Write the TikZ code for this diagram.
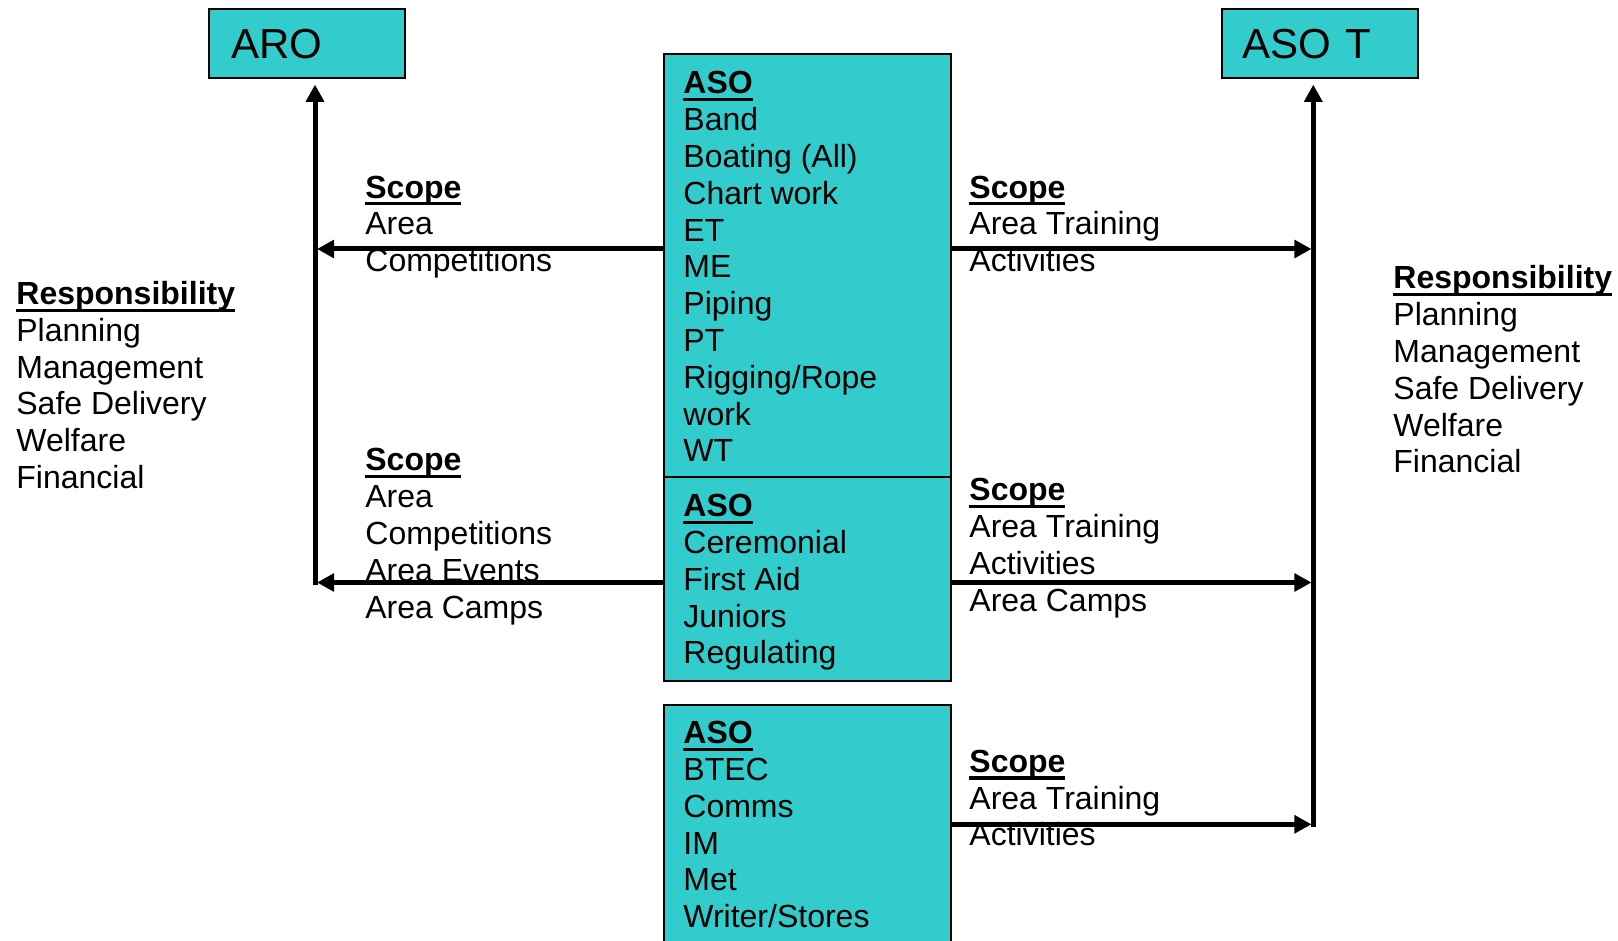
\documentclass[tikz,border=0pt]{standalone}
\usepackage{fontspec}
\setmainfont{Liberation Sans}
\usetikzlibrary{arrows.meta}
\definecolor{tealfill}{HTML}{33CCCC}
\newcommand\ulhead[1]{\setbox0\hbox{\bfseries #1}\rlap{\rule[-3.7pt]{\wd0}{1.6pt}}\box0}
\tikzset{
  txt/.style={anchor=north west, inner sep=0pt, align=left, font=\fontsize{16pt}{18.4pt}\selectfont},
  boxshape/.style={draw=black, line width=1.2pt, fill=tealfill, rectangle, inner sep=0pt, anchor=north west},
  topbox/.style={boxshape, font=\fontsize{21pt}{25pt}\selectfont, align=left, minimum height=34.5pt},
  conn/.style={line width=2.5pt, -{Triangle[length=8.6pt,width=8.8pt]}}
}
\begin{document}
\begin{tikzpicture}[x=0.5pt,y=-0.5pt]
\useasboundingbox (0,0) rectangle (1618,941);
\clip (0,0) rectangle (1618,941);
\fill[white] (0,0) rectangle (1618,941);

% top boxes
\node[topbox, text width=76pt, inner xsep=11pt] (aro) at (208,8) {ARO};
\node[topbox, text width=77.4pt, inner xsep=10.3pt] (asot) at (1221,8) {ASO T};

% central boxes
\node[boxshape, minimum width=143.5pt, minimum height=211.5pt] (aso1) at (663,53) {};
\node[boxshape, minimum width=143.5pt, minimum height=102pt] (aso2) at (663,476) {};
\node[boxshape, minimum width=143.5pt, minimum height=130pt] (aso3) at (663,704) {};

% connector coordinates
\coordinate (lvbot) at (315,585);
\coordinate (rvbot) at (1313.3,826.8);
\coordinate (la1) at (317,249);
\coordinate (la2) at (317,582.5);
\coordinate (ra1) at (1311.5,249);
\coordinate (ra2) at (1311.5,582.5);
\coordinate (ra3) at (1311.5,824.3);

% vertical connectors
\draw[conn, shorten >=2.6pt] (lvbot) -- (lvbot |- aro.south);
\draw[conn, shorten >=2.6pt] (rvbot) -- (rvbot |- asot.south);

% horizontal connectors
\draw[conn] (aso1.west |- la1) -- (la1);
\draw[conn] (aso2.west |- la2) -- (la2);
\draw[conn] (aso1.east |- ra1) -- (ra1);
\draw[conn] (aso2.east |- ra2) -- (ra2);
\draw[conn] (aso3.east |- ra3) -- (ra3);

% box texts
\node[txt] (aso1t) at (683,67.74) {\strut\ulhead{ASO}\\Band\\Boating (All)\\Chart work\\ET\\ME\\Piping\\PT\\Rigging/Rope\\work\\WT};
\node[txt] (aso2t) at (683,490.44) {\strut\ulhead{ASO}\\Ceremonial\\First Aid\\Juniors\\Regulating};
\node[txt] (aso3t) at (683,717.44) {\strut\ulhead{ASO}\\BTEC\\Comms\\IM\\Met\\Writer/Stores};

% responsibility
\node[txt] (respL) at (16,278.24) {\strut\ulhead{Responsibility}\\Planning\\Management\\Safe Delivery\\Welfare\\Financial};
\node[txt] (respR) at (1393,262.74) {\strut\ulhead{Responsibility}\\Planning\\Management\\Safe Delivery\\Welfare\\Financial};

% scopes
\node[txt] (scopeL1) at (365,171.94) {\strut\ulhead{Scope}\\Area\\Competitions};
\node[txt] (scopeL2) at (365,444.74) {\strut\ulhead{Scope}\\Area\\Competitions\\Area Events\\Area Camps};
\node[txt] (scopeR1) at (969,171.94) {\strut\ulhead{Scope}\\Area Training\\Activities};
\node[txt] (scopeR2) at (969,474.74) {\strut\ulhead{Scope}\\Area Training\\Activities\\Area Camps};
\node[txt] (scopeR3) at (969,746.04) {\strut\ulhead{Scope}\\Area Training\\Activities};
\end{tikzpicture}
\end{document}
